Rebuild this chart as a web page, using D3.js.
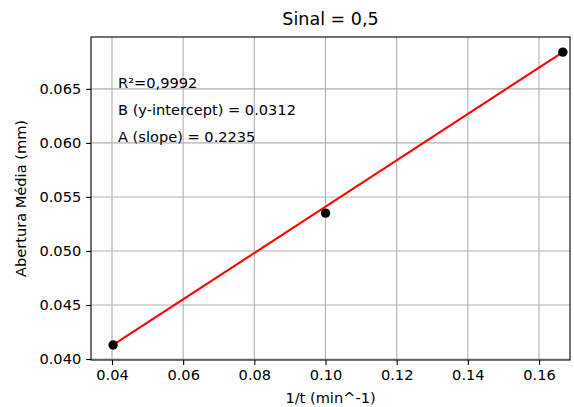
<!DOCTYPE html>
<html><head><meta charset="utf-8">
<script src="https://cdn.jsdelivr.net/npm/d3@7"></script>
<style>body{margin:0;background:#fff}text{font-family:"DejaVu Sans",sans-serif;fill:#000}</style>
</head><body><svg id="c" width="574" height="407"></svg>
<script>
const xValues = [0.0403, 0.10, 0.1667];
const yValues = [0.0413, 0.0535, 0.0684];
const fitX = [0.0403, 0.1667];
const fitY = [0.0413, 0.0684];
const xTicks = [0.04, 0.06, 0.08, 0.10, 0.12, 0.14, 0.16];
const yTicks = [0.040, 0.045, 0.050, 0.055, 0.060, 0.065];
const annotations = ["R²=0,9992", "B (y-intercept) = 0.0312", "A (slope) = 0.2235"];
const title = "Sinal = 0,5";
const xLabel = "1/t (min^-1)";
const yLabel = "Abertura Média (mm)";

const L = 91, R = 570, T = 37, B = 360;
const svg = d3.select("#c");
const x = d3.scaleLinear().domain([0.0341, 0.1687]).range([L, R]);
const y = d3.scaleLinear().domain([0.03991, 0.0698]).range([B, T]);

// grid
const g = svg.append("g");
g.selectAll(".vg").data(xTicks).join("line")
  .attr("x1", d => x(d)).attr("x2", d => x(d)).attr("y1", T).attr("y2", B)
  .attr("stroke", "#b0b0b0").attr("stroke-width", 1.1);
g.selectAll(".hg").data(yTicks).join("line")
  .attr("x1", L).attr("x2", R).attr("y1", d => y(d)).attr("y2", d => y(d))
  .attr("stroke", "#b0b0b0").attr("stroke-width", 1.1);

// axes
const fmtX = d3.format(".2f"), fmtY = d3.format(".3f");
const xa = svg.append("g").attr("transform", `translate(0,${B})`)
  .call(d3.axisBottom(x).tickValues(xTicks).tickFormat(fmtX).tickSize(4.9).tickPadding(4.9));
const ya = svg.append("g").attr("transform", `translate(${L},0)`)
  .call(d3.axisLeft(y).tickValues(yTicks).tickFormat(fmtY).tickSize(4.9).tickPadding(4.9));
[xa, ya].forEach(a => {
  a.select(".domain").remove();
  a.selectAll("line").attr("stroke", "#000").attr("stroke-width", 1.1);
  a.selectAll("text").style("font-size", "14.6px").attr("fill", "#262626")
    .style("font-family", '"DejaVu Sans",sans-serif');
});

// frame
svg.append("rect").attr("x", L).attr("y", T).attr("width", R - L).attr("height", B - T)
  .attr("fill", "none").attr("stroke", "#000").attr("stroke-width", 1.1);

// fit line
svg.append("path").datum(fitX.map((d, i) => [d, fitY[i]]))
  .attr("d", d3.line().x(d => x(d[0])).y(d => y(d[1])))
  .attr("fill", "none").attr("stroke", "#ff0000").attr("stroke-width", 2.1);

// points
svg.selectAll(".pt").data(xValues).join("circle")
  .attr("cx", d => x(d)).attr("cy", (d, i) => y(yValues[i])).attr("r", 4.7)
  .attr("fill", "#000");

// annotations
svg.selectAll(".ann").data(annotations).join("text")
  .attr("x", 118).attr("y", (d, i) => 88 + i * 26.8)
  .style("font-size", "14.6px").text(d => d);

// title & labels
svg.append("text").attr("x", (L + R) / 2).attr("y", 25).attr("text-anchor", "middle")
  .style("font-size", "17.5px").text(title);
svg.append("text").attr("x", (L + R) / 2).attr("y", 403).attr("text-anchor", "middle")
  .style("font-size", "14.6px").text(xLabel);
svg.append("text").attr("transform", `translate(26,${(T + B) / 2}) rotate(-90)`)
  .attr("text-anchor", "middle").style("font-size", "14.6px").text(yLabel);
</script></body></html>
